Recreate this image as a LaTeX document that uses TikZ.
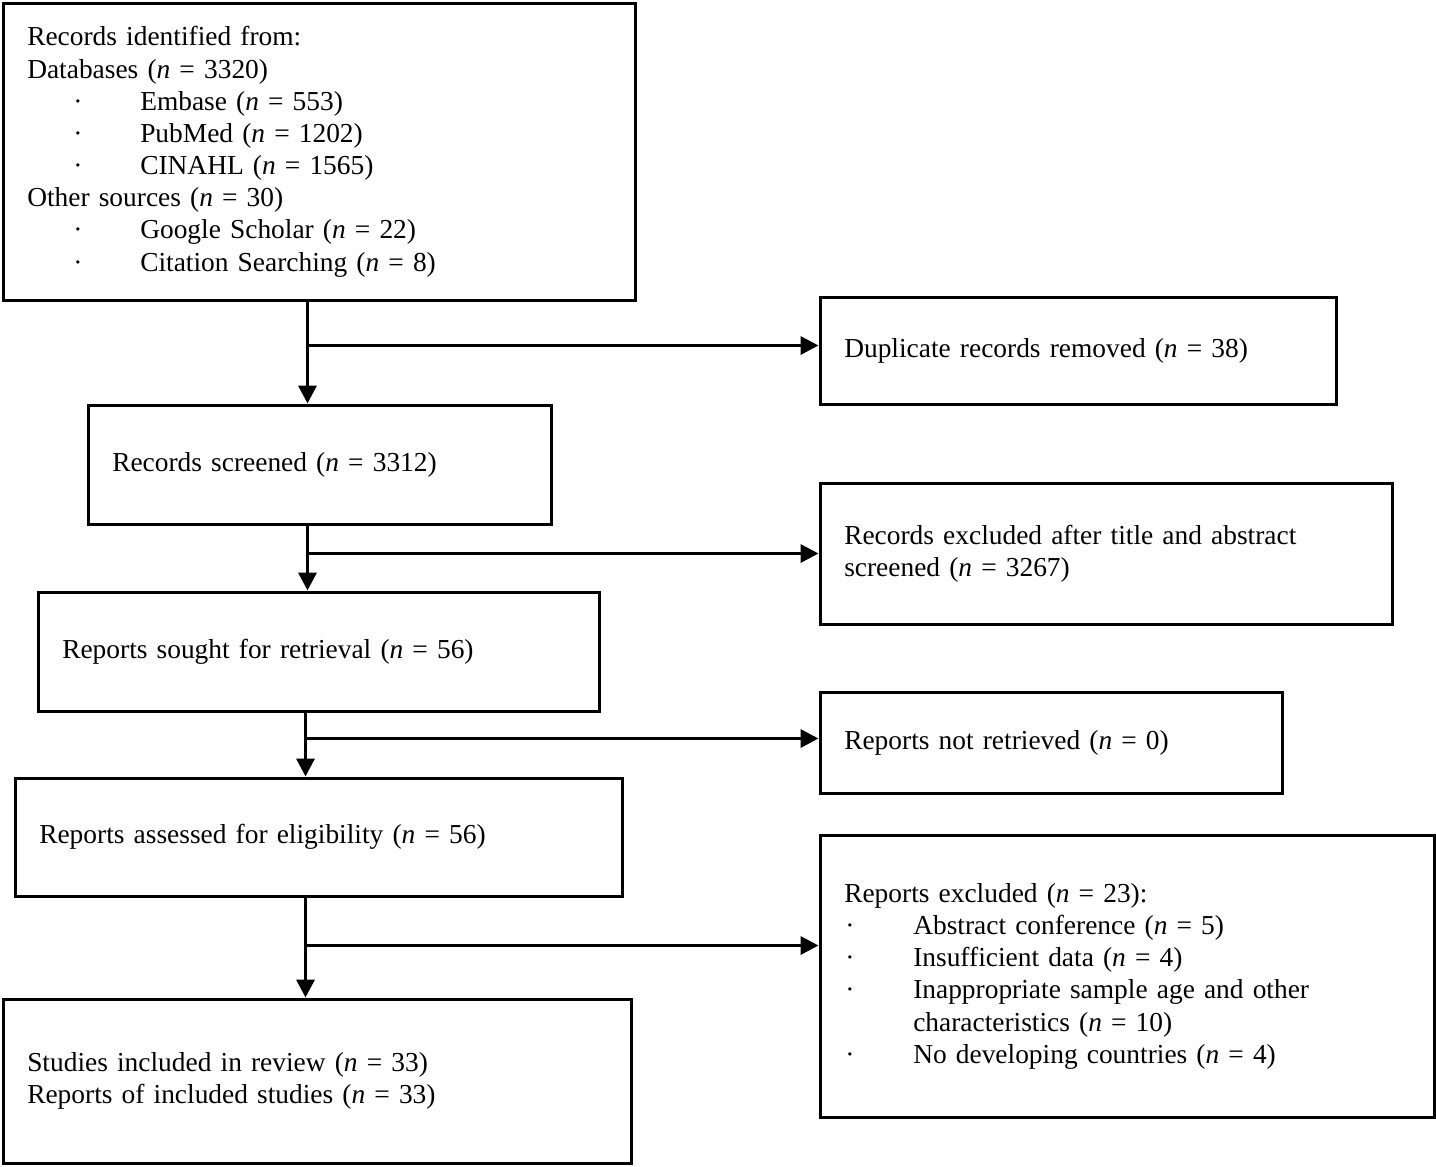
\documentclass[tikz,border=0pt]{standalone}
\usepackage{fontspec}
\setmainfont{Liberation Serif}
\usetikzlibrary{arrows.meta}

% bullet line: offset of the dot, gap to the item text, item text
\newcommand{\bulletline}[3]{\hspace*{#1}\makebox[#2][l]{\textperiodcentered}#3}

\begin{document}
\begin{tikzpicture}[
    box/.style={draw, line width=2pt, anchor=north west, align=left,
        inner xsep=0.48cm, font=\fontsize{15.6}{18.3}\selectfont},
    arr/.style={line width=2pt, -{Triangle[length=0.36cm,width=0.36cm]}}
  ]
    \useasboundingbox (0.03,-0.03) rectangle (28.75,-23.35);

    % Left column
    \node[box, minimum width=12.64cm, minimum height=5.94cm, text width=11.68cm]
        (ident) at (0.06,-0.06) {Records identified from:\\
        Databases (\textit{n} = 3320)\\
        \bulletline{0.92cm}{1.34cm}{Embase (\textit{n} = 553)}\\
        \bulletline{0.92cm}{1.34cm}{PubMed (\textit{n} = 1202)}\\
        \bulletline{0.92cm}{1.34cm}{CINAHL (\textit{n} = 1565)}\\
        Other sources (\textit{n} = 30)\\
        \bulletline{0.92cm}{1.34cm}{Google Scholar (\textit{n} = 22)}\\
        \bulletline{0.92cm}{1.34cm}{Citation Searching (\textit{n} = 8)}};
    \node[box, minimum width=9.26cm, minimum height=2.38cm, text width=8.30cm]
        (screen) at (1.76,-8.10) {Records screened (\textit{n} = 3312)};
    \node[box, minimum width=11.22cm, minimum height=2.38cm, text width=10.26cm]
        (sought) at (0.76,-11.84) {Reports sought for retrieval (\textit{n} = 56)};
    \node[box, minimum width=12.14cm, minimum height=2.36cm, text width=11.18cm]
        (assess) at (0.30,-15.56) {Reports assessed for eligibility (\textit{n} = 56)};
    \node[box, minimum width=12.56cm, minimum height=3.28cm, text width=11.60cm]
        (incl) at (0.06,-19.98) {Studies included in review (\textit{n} = 33)\\
        Reports of included studies (\textit{n} = 33)};

    % Right column
    \node[box, minimum width=10.32cm, minimum height=2.14cm, text width=9.36cm]
        (dup) at (16.4,-5.94) {Duplicate records removed (\textit{n} = 38)};
    \node[box, minimum width=11.44cm, minimum height=2.82cm, text width=10.48cm]
        (excltitle) at (16.4,-9.66) {Records excluded after title and abstract\\
        screened (\textit{n} = 3267)};
    \node[box, minimum width=9.24cm, minimum height=2.02cm, text width=8.28cm]
        (notret) at (16.4,-13.84) {Reports not retrieved (\textit{n} = 0)};
    \node[box, minimum width=12.28cm, minimum height=5.64cm, text width=11.32cm]
        (exclrep) at (16.4,-16.70) {Reports excluded (\textit{n} = 23):\\
        \bulletline{0.02cm}{1.36cm}{Abstract conference (\textit{n} = 5)}\\
        \bulletline{0.02cm}{1.36cm}{Insufficient data (\textit{n} = 4)}\\
        \bulletline{0.02cm}{1.36cm}{Inappropriate sample age and other}\\
        \hspace*{1.38cm}characteristics (\textit{n} = 10)\\
        \bulletline{0.02cm}{1.36cm}{No developing countries (\textit{n} = 4)}};

    % Branch points on the spine
    \coordinate (s1) at (6.18,-6.94);
    \coordinate (s2) at (6.18,-11.10);
    \coordinate (s3) at (6.14,-14.80);
    \coordinate (s4) at (6.14,-18.94);

    % Arrows
    \draw[arr] (ident.south -| s1) -- (screen.north -| s1);
    \draw[arr] (s1) -- (dup.west |- s1);
    \draw[arr] (screen.south -| s2) -- (sought.north -| s2);
    \draw[arr] (s2) -- (excltitle.west |- s2);
    \draw[arr] (sought.south -| s3) -- (assess.north -| s3);
    \draw[arr] (s3) -- (notret.west |- s3);
    \draw[arr] (assess.south -| s4) -- (incl.north -| s4);
    \draw[arr] (s4) -- (exclrep.west |- s4);
\end{tikzpicture}
\end{document}
